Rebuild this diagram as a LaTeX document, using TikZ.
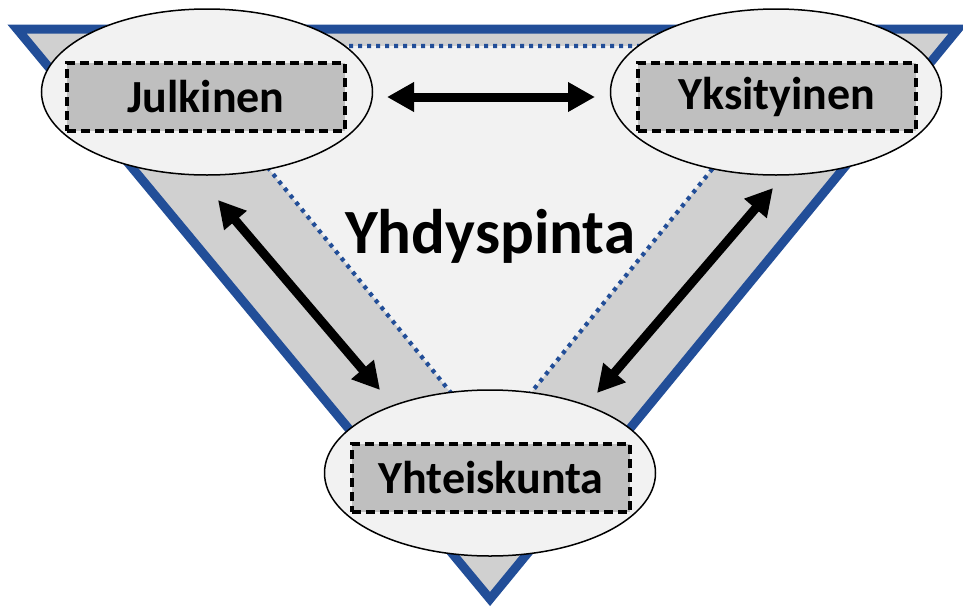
\documentclass[tikz,border=0pt]{standalone}
\usepackage{fontspec}
\setmainfont{Carlito}
\usetikzlibrary{arrows.meta,shapes.geometric}
\definecolor{edgeblue}{RGB}{34,78,152}
\definecolor{bandgray}{RGB}{208,208,208}
\definecolor{lightfill}{RGB}{242,242,242}
\definecolor{boxgray}{RGB}{191,191,191}
\tikzset{
  sector/.style={ellipse, draw=black, line width=1.5pt, fill=lightfill, minimum width=331pt, minimum height=166pt, inner sep=0pt},
  rolebox/.style={rectangle, draw=black, dash pattern=on 9pt off 5pt, line width=3.2pt, fill=boxgray, minimum width=278pt, minimum height=68pt, inner sep=0pt, font=\bfseries\fontsize{46}{55}\selectfont},
  link/.style={line width=9pt, {Triangle[length=27pt,width=28pt]}-{Triangle[length=27pt,width=28pt]}},
}
\begin{document}
\begin{tikzpicture}[x=1pt,y=-1pt]
\useasboundingbox (0,0) rectangle (963,608);
% outer triangle
\coordinate (o1) at (17,29);
\coordinate (o2) at (958,29);
\coordinate (o3) at (490,599);
\draw[edgeblue, line width=9pt, fill=bandgray, line join=miter] (o1) -- (o2) -- (o3) -- cycle;
% inner triangle
\coordinate (i1) at (169,46);
\coordinate (i2) at (812,46);
\coordinate (i3) at (491,442);
\fill[lightfill] (i1) -- (i2) -- (i3) -- cycle;
\draw[edgeblue, line width=4.2pt, dash pattern=on 4pt off 5pt] (i1) -- (i2) -- (i3) -- cycle;
% ellipses
\node[sector] (jul) at (207,92) {};
\node[sector] (yks) at (776,92) {};
\node[sector] (yht) at (490,473) {};
% boxes
\node[rolebox] (julbox) at (206,97) {Julkinen};
\node[rolebox] (yksbox) at (777,97) {Yksityinen};
\node[rolebox] (yhtbox) at (491,478) {Yhteiskunta};
% centre label
\node[font=\bfseries\fontsize{63}{75}\selectfont] (yhd) at (490,236) {Yhdyspinta};
% arrow ends
\coordinate (a1) at (387,97);
\coordinate (a2) at (595,97);
\coordinate (b1) at (218,200);
\coordinate (b2) at (380,390);
\coordinate (c1) at (773,188);
\coordinate (c2) at (597,393);
\draw[link] (a1) -- (a2);
\draw[link] (b1) -- (b2);
\draw[link] (c1) -- (c2);
\end{tikzpicture}
\end{document}
